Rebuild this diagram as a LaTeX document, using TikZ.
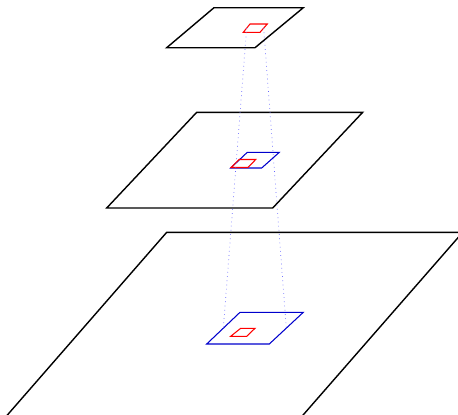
\documentclass[tikz,border=0pt]{standalone}
\usetikzlibrary{calc}

\begin{document}
\begin{tikzpicture}[
    x=0.02cm, y=-0.02cm,
    layer/.style={
        draw=black, line width=0.8pt
    },
    window/.style={
        draw=blue!80!black, line width=0.6pt
    },
    patch/.style={
        draw=red, line width=0.6pt
    },
    ray/.style={
        draw=blue!60, dotted, line width=0.4pt
    }
]

    % Canvas
    \clip (0, 0) rectangle (458, 414);

    % Top layer
    \draw[layer] (166.7, 47.7) -- (214, 7.7) -- (303.3, 7.7) -- (255, 47.7) -- cycle;
    \coordinate (t1) at (243.3, 32.3);
    \coordinate (t2) at (250, 24);
    \coordinate (t3) at (267.3, 24);
    \coordinate (t4) at (260, 32.3);
    \draw[patch] (t1) -- (t2) -- (t3) -- (t4) -- cycle;

    % Middle layer
    \draw[layer] (106.7, 208) -- (196.7, 112.3) -- (362.7, 112.3) -- (272.7, 208) -- cycle;
    \draw[window] (230.7, 168) -- (247.3, 152.3) -- (279.3, 152.3) -- (261.7, 168) -- cycle;
    \draw[patch] (231.2, 167.5) -- (239, 159.5) -- (255.7, 159.5) -- (248, 167.5) -- cycle;

    % Bottom layer
    \draw[layer] (-5.7, 430) -- (166.7, 232.3) -- (462.7, 232.3) -- (290, 430) -- cycle;
    \coordinate (b1) at (206.7, 344);
    \coordinate (b2) at (240, 312.3);
    \coordinate (b3) at (303.3, 312.3);
    \coordinate (b4) at (269.3, 344);
    \draw[window] (b1) -- (b2) -- (b3) -- (b4) -- cycle;
    \draw[patch] (230.7, 336.3) -- (240.7, 328.3) -- (255, 328.3) -- (246.7, 336.3) -- cycle;

    % Projection rays
    \draw[ray] ($(t1)!0.5!(t2)$) -- ($(b1)!0.5!(b2)$);
    \draw[ray] ($(t3)!0.5!(t4)$) -- ($(b3)!0.5!(b4)$);

\end{tikzpicture}
\end{document}
